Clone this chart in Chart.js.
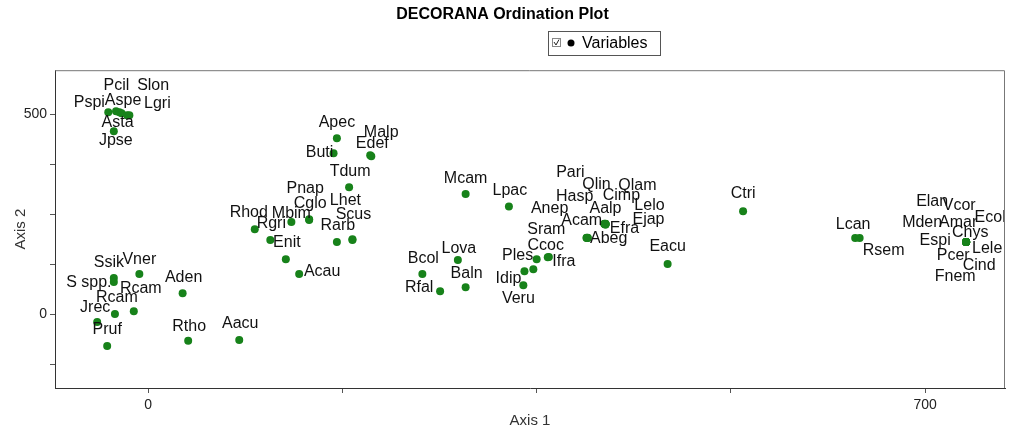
<!DOCTYPE html>
<html>
<head>
<meta charset="utf-8">
<script src="https://cdn.jsdelivr.net/npm/chart.js@4/dist/chart.umd.min.js"></script>
<style>
  body { margin: 0; background: #fff; }
  #wrap { position: relative; width: 1010px; height: 430px; }
</style>
</head>
<body>
<div id="wrap"><canvas id="grafico" width="1010" height="430"></canvas></div>
<script>
// species codes (one per point)
var especies = ["Pspi", "Aspe", "Pcil", "Asta", "Slon", "Lgri", "Jpse",
  "Ssik", "S spp.", "Vner", "Aden", "Rcam", "Rcam", "Jrec", "Pruf", "Rtho", "Aacu",
  "Apec", "Buti", "Malp", "Edef", "Tdum", "Rhod", "Rgri", "Mbim", "Cglo", "Pnap",
  "Enit", "Acau", "Rarb", "Scus", "Lhet",
  "Mcam", "Lpac", "Bcol", "Lova", "Rfal", "Baln", "Ples", "Ccoc", "Ifra", "Sram", "Idip", "Veru",
  "Pari", "Qlin", "Qlam", "Cimp", "Lelo", "Aalp", "Ejap", "Efra", "Hasp", "Anep", "Acam", "Abeg",
  "Eacu", "Ctri", "Lcan", "Rsem",
  "Elan", "Vcor", "Mden", "Amar", "Ecol", "Chys", "Espi", "Lele", "Pcer", "Cind", "Fnem"];

// DECORANA scores
var eixo1 = [-36, -29, -26, -24, -19, -17, -31,
  -31, -31, -8, 31, -13, -30, -46, -37, 36, 82,
  170, 167, 200, 201, 181, 96, 110, 129, 145, 145,
  124, 136, 170, 184, 184,
  286, 325, 247, 279, 263, 286, 350, 360, 361, 347, 339, 338,
  411, 412, 412, 411, 412, 412, 412, 412, 395, 395, 396, 396,
  468, 536, 637, 641,
  737, 737, 737, 737, 737, 737, 737, 737, 737, 737, 737];

var eixo2 = [505, 507, 505, 502, 497, 497, 457,
  90, 80, 100, 52, 7, 0, -20, -80, -67, -65,
  440, 402, 397, 395, 317, 212, 185, 230, 235, 237,
  137, 100, 180, 185, 187,
  300, 269, 100, 135, 57, 67, 137, 142, 143, 112, 107, 72,
  226, 226, 225, 225, 225, 224, 224, 225, 191, 190, 190, 191,
  125, 257, 190, 190,
  180, 180, 180, 180, 180, 180, 180, 180, 180, 180, 180];

var ticksEixo1 = [0, 175, 350, 525, 700];
var ticksEixo2 = [-125, 0, 125, 250, 375, 500];
var rotulosEixo1 = [0, 700];
var rotulosEixo2 = [0, 500];

// label placement around each point (pixels)
var rotuloDx = [-19, 7, -3, -4, 26, 28, 2,
  -5, -25, 0, 1, 7, 2, -2, 0, 1, 1,
  0, -14, 11, 1, 1, -6, 1, 0, 1, -4,
  1, 23, 1, 1, -7,
  0, 1, 1, 1, -21, 1, -19, -2, 15, 13, -16, -5,
  -34, -9, 32, 17, 44, 0, 43, 19, -12, -37, -6, 21,
  0, 0, -2, 24,
  -34, -7, -44, -8, 24, 4, -31, 21, -13, 13, -11];
var rotuloDy = [-10, -11, -27, 9, -30, -12, 9,
  -15, 1, -14, -16, -23, -16, -14, -16, -14, -16,
  -16, -1, -23, -13, -16, -17, -16, -9, -17, -31,
  -17, -2, -16, -25, -39,
  -16, -16, -15, -11, -4, -14, -4, -12, 5, -40, 7, 13,
  -51, -39, -39, -29, -19, -16, -5, 4, -41, -30, -18, 1,
  -17, -18, -14, 12,
  -40, -36, -19, -19, -24, -9, -1, 7, 14, 24, 35];

var fonte = 'Arial, "Liberation Sans", sans-serif';

var pontos = especies.map(function(nome, i) {
  return { x: eixo1[i], y: eixo2[i] };
});

var rotulosPlugin = {
  id: 'rotulos',
  afterDatasetsDraw: function(chart) {
    var ctx = chart.ctx;
    var meta = chart.getDatasetMeta(0);
    ctx.save();
    ctx.font = '16px ' + fonte;
    ctx.fillStyle = '#111';
    ctx.textAlign = 'center';
    ctx.textBaseline = 'middle';
    meta.data.forEach(function(p, i) {
      ctx.fillText(especies[i], p.x + rotuloDx[i], p.y + rotuloDy[i]);
    });
    ctx.restore();
  }
};

var caixaPlugin = {
  id: 'caixa',
  afterDraw: function(chart) {
    var ctx = chart.ctx;
    var a = chart.chartArea;
    ctx.save();
    ctx.strokeStyle = '#777';
    ctx.lineWidth = 1;
    ctx.beginPath();
    ctx.moveTo(a.left, a.top + 0.5);
    ctx.lineTo(a.right - 0.5, a.top + 0.5);
    ctx.lineTo(a.right - 0.5, a.bottom);
    ctx.stroke();

    // legend box
    ctx.strokeStyle = '#555';
    ctx.strokeRect(548.5, 31.5, 112, 24);
    ctx.strokeStyle = '#888';
    ctx.strokeRect(552.5, 38.5, 8, 8);
    ctx.strokeStyle = '#222';
    ctx.beginPath();
    ctx.moveTo(554, 42);
    ctx.lineTo(556, 45);
    ctx.lineTo(559, 39.5);
    ctx.stroke();
    ctx.fillStyle = '#000';
    ctx.beginPath();
    ctx.arc(571, 43, 3.5, 0, Math.PI * 2);
    ctx.fill();
    ctx.font = '16px ' + fonte;
    ctx.textAlign = 'left';
    ctx.textBaseline = 'middle';
    ctx.fillText('Variables', 582, 44);
    ctx.restore();
  }
};

new Chart(document.getElementById('grafico').getContext('2d'), {
  type: 'scatter',
  data: {
    datasets: [{
      label: 'Variables',
      data: pontos,
      backgroundColor: '#17821a',
      borderWidth: 0,
      pointRadius: 4,
      pointHoverRadius: 4
    }]
  },
  options: {
    responsive: false,
    animation: false,
    devicePixelRatio: 1,
    layout: { padding: { left: 0, right: 5, top: 0, bottom: 0 } },
    plugins: {
      legend: { display: false },
      tooltip: { enabled: false },
      title: {
        display: true,
        text: 'DECORANA Ordination Plot',
        color: '#000',
        font: { family: fonte, size: 16, weight: 'bold' },
        padding: { top: 5, bottom: 46 }
      }
    },
    scales: {
      x: {
        type: 'linear',
        min: -84,
        max: 772,
        afterBuildTicks: function(axis) {
          axis.ticks = ticksEixo1.map(function(v) { return { value: v }; });
        },
        afterFit: function(axis) { axis.height = 42; },
        grid: { drawOnChartArea: false, drawTicks: true, tickLength: 5, color: '#555' },
        border: { color: '#333' },
        ticks: {
          autoSkip: false,
          maxRotation: 0,
          padding: 4,
          color: '#222',
          font: { family: fonte, size: 14 },
          callback: function(v) { return rotulosEixo1.indexOf(v) >= 0 ? v : ''; }
        },
        title: {
          display: true,
          text: 'Axis 1',
          color: '#333',
          font: { family: fonte, size: 15 },
          padding: { top: 0, bottom: 0 }
        }
      },
      y: {
        type: 'linear',
        min: -185,
        max: 610,
        afterBuildTicks: function(axis) {
          axis.ticks = ticksEixo2.map(function(v) { return { value: v }; });
        },
        afterFit: function(axis) { axis.width = 55; },
        grid: { drawOnChartArea: false, drawTicks: true, tickLength: 5, color: '#555' },
        border: { color: '#333' },
        ticks: {
          autoSkip: false,
          padding: 3,
          color: '#222',
          font: { family: fonte, size: 14 },
          callback: function(v) { return rotulosEixo2.indexOf(v) >= 0 ? v : ''; }
        },
        title: {
          display: true,
          text: 'Axis 2',
          color: '#333',
          font: { family: fonte, size: 15 },
          padding: { top: 12, bottom: 0 }
        }
      }
    }
  },
  plugins: [rotulosPlugin, caixaPlugin]
});
</script>
</body>
</html>
